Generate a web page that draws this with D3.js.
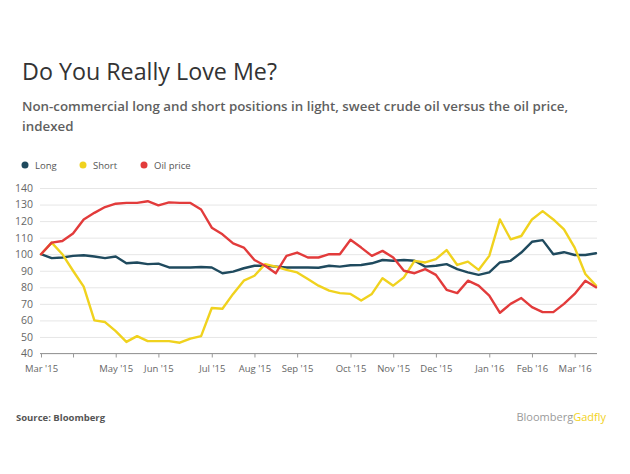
<!DOCTYPE html>
<html>
<head>
<meta charset="utf-8">
<script src="https://cdn.jsdelivr.net/npm/d3@7"></script>
<style>
  html, body { margin: 0; padding: 0; background: #fff; }
  svg { display: block; }
  text { font-family: "Open Sans", "Liberation Sans", Arial, sans-serif; }
</style>
</head>
<body>
<svg id="chart" width="630" height="474"></svg>
<script>
// ---- Data (weekly, indexed) ----
const startDate = new Date(2015, 2, 17);
const longValues = [100, 97.6, 98, 99, 99.4, 98.6, 97.6, 98.6, 94.5, 95, 94, 94.3, 92, 92, 92, 92.3, 92, 88.5, 89.5, 91.5,
  93, 93, 92.5, 92, 92, 92, 91.8, 93, 92.5, 93.3, 93.5, 94.5, 96.5, 96, 96.5, 96, 92.5, 93, 94, 91,
  89, 87.5, 89, 95, 96, 101, 107.5, 108.5, 100, 101.2, 99.5, 99.5, 100.6];
const shortValues = [100, 107, 100, 90, 80.4, 60, 59, 53.5, 47, 50.5, 47.5, 47.5, 47.5, 46.5, 49, 50.5, 67.5, 67, 76, 84,
  87, 94, 92.5, 90.5, 89, 85, 81, 78, 76.5, 76, 72, 76, 85.5, 81, 86, 96, 95, 97, 102.5, 93.5,
  95.5, 90.5, 99, 121, 109, 111, 121, 126, 121, 115, 104, 88, 81];
const oilValues = [100, 107, 108, 112.5, 121, 125, 128.5, 130.5, 131, 131, 132, 129.5, 131.3, 131, 131, 127, 116, 112, 106.5, 104,
  96.5, 93, 88.5, 99, 101, 98, 98, 100, 100, 108.7, 104, 99, 102, 98, 90, 88.5, 91, 87.5, 78.5, 76.5,
  84, 81, 75, 64.6, 70, 73.5, 68, 65, 65, 70, 76, 84, 80];
const seriesNames = ["Long", "Short", "Oil price"];
const seriesColors = ["#1f4a5e", "#f0d21e", "#e23b3b"];
const yTicks = [40, 50, 60, 70, 80, 90, 100, 110, 120, 130, 140];
const xTickDates = [[2015,2,17],[2015,3,7],[2015,4,5],[2015,5,2],[2015,6,7],[2015,7,4],[2015,8,1],[2015,9,6],[2015,10,3],[2015,11,1],[2016,0,5],[2016,1,2],[2016,2,1]];
const xTickLabels = ["Mar '15", "", "May '15", "Jun '15", "Jul '15", "Aug '15", "Sep '15", "Oct '15", "Nov '15", "Dec '15", "Jan '16", "Feb '16", "Mar '16"];

const dates = longValues.map((_, i) => d3.timeWeek.offset(startDate, i));
const seriesData = [longValues, shortValues, oilValues];

// ---- Layout ----
const svg = d3.select("#chart");
const x = d3.scaleTime().domain([dates[0], dates[dates.length - 1]]).range([41, 596]);
const y = d3.scaleLinear().domain([40, 140]).range([353.5, 188]);

function fitWidth(sel, target) {
  const w = sel.node().getComputedTextLength();
  const fs = parseFloat(sel.attr("font-size"));
  if (w > 0) sel.attr("font-size", (fs * target / w).toFixed(2));
}

// Title & subtitle
const title = svg.append("text").attr("x", 22).attr("y", 80).attr("font-size", 21).attr("fill", "#333")
  .text("Do You Really Love Me?");
fitWidth(title, 255);
const sub1 = svg.append("text").attr("x", 22).attr("y", 111).attr("font-size", 12.6).attr("font-weight", 600).attr("fill", "#5f5f5f")
  .text("Non-commercial long and short positions in light, sweet crude oil versus the oil price,");
fitWidth(sub1, 546);
svg.append("text").attr("x", 22).attr("y", 131).attr("font-size", sub1.attr("font-size")).attr("font-weight", 600).attr("fill", "#5f5f5f")
  .text("indexed");

// Legend
const legendX = [25, 83, 144];
seriesNames.forEach((name, k) => {
  svg.append("circle").attr("cx", legendX[k]).attr("cy", 165).attr("r", 3.5).attr("fill", seriesColors[k]);
  svg.append("text").attr("x", legendX[k] + 10).attr("y", 168.5).attr("font-size", 9.5).attr("fill", "#555").text(name);
});

// Grid & y labels
const yAxis = d3.axisLeft(y).tickValues(yTicks).tickSize(-(597 - 40)).tickFormat(d3.format("d"));
const gy = svg.append("g").attr("transform", "translate(40,0)").call(yAxis);
gy.select(".domain").remove();
gy.selectAll(".tick line").attr("stroke", "#e6e6e6").attr("stroke-width", 1);
gy.selectAll(".tick text").attr("x", -7).attr("font-size", 10.5).attr("fill", "#666")
  .attr("font-family", "Liberation Sans, Arial, sans-serif");

// X axis
const xAxis = d3.axisBottom(x)
  .tickValues(xTickDates.map(d => new Date(d[0], d[1], d[2])))
  .tickFormat((d, i) => xTickLabels[i])
  .tickSize(4).tickSizeOuter(0);
const gx = svg.append("g").attr("transform", `translate(0,${y(40)})`).call(xAxis);
gx.select(".domain").attr("d", `M40,0H597`).attr("stroke", "#999");
gx.selectAll(".tick line").attr("stroke", "#999");
gx.selectAll(".tick text").attr("font-size", 9.5).attr("fill", "#666").attr("y", 10).attr("dy", "0.9em")
  .attr("font-family", "Liberation Sans, Arial, sans-serif");

// Lines
const line = d3.line().x((d, i) => x(dates[i])).y(d => y(d));
seriesData.forEach((vals, k) => {
  svg.append("path").datum(vals).attr("d", line).attr("fill", "none")
    .attr("stroke", seriesColors[k]).attr("stroke-width", 2.4)
    .attr("stroke-linejoin", "round").attr("stroke-linecap", "round");
});

// Footer
svg.append("text").attr("x", 16).attr("y", 421).attr("font-size", 9.5).attr("font-weight", "bold").attr("fill", "#555")
  .attr("font-family", "Liberation Sans, Arial, sans-serif")
  .text("Source: Bloomberg");
const brand = svg.append("text").attr("x", 606).attr("y", 421).attr("font-size", 11).attr("text-anchor", "end")
  .attr("font-family", "Liberation Sans, Arial, sans-serif");
brand.append("tspan").attr("fill", "#9a9a9a").text("Bloomberg");
brand.append("tspan").attr("fill", "#f2d21b").text("Gadfly");
</script>
</body>
</html>
